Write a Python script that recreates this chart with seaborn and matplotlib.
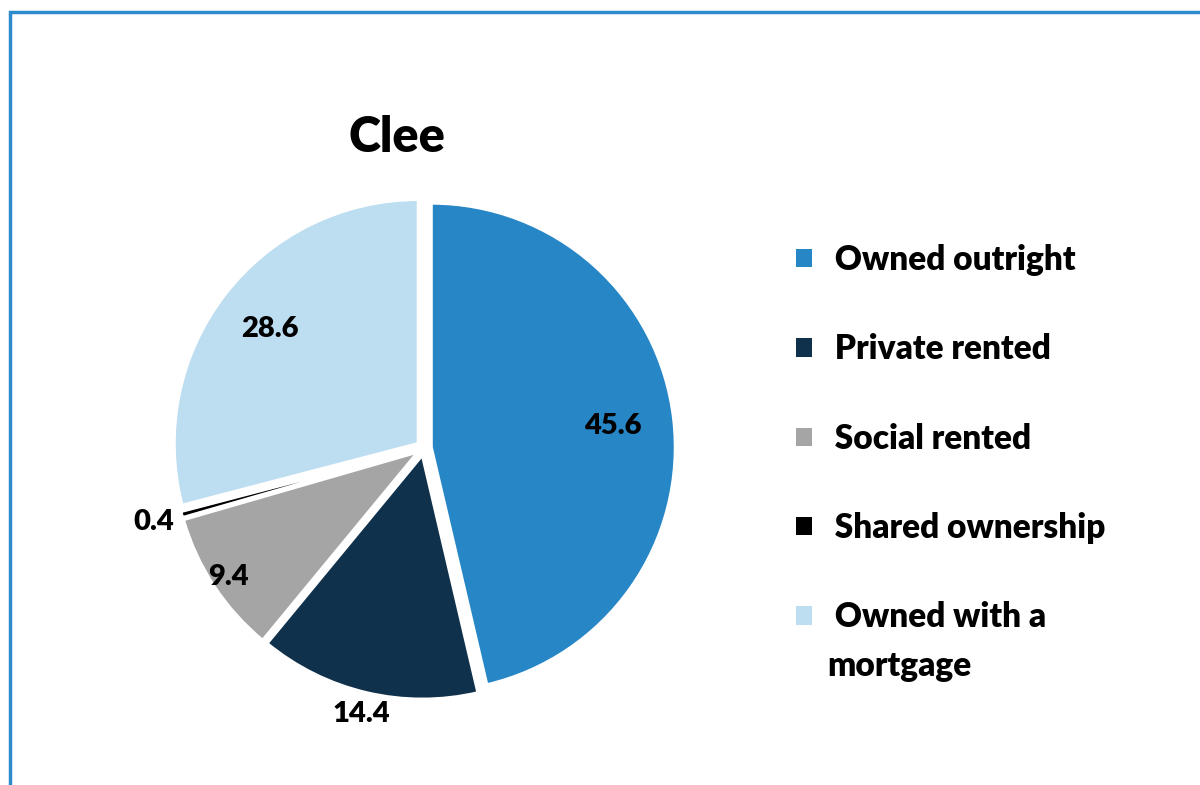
import numpy as np
import seaborn as sns
import matplotlib.pyplot as plt
from matplotlib.patches import Rectangle, Patch

sns.set_theme(style="white")
plt.rcParams['font.family'] = ['Lato', 'DejaVu Sans']
plt.rcParams['text.color'] = 'black'

# tenure shares for Clee (%)
categories = [" Owned outright", " Private rented", " Social rented",
              " Shared ownership", " Owned with a\nmortgage"]
values = [45.6, 14.4, 9.4, 0.4, 28.6]
value_labels = ["45.6", "14.4", "9.4", "0.4", "28.6"]
colors = ["#2686C6", "#10314B", "#A5A5A5", "#000000", "#BDDDF1"]
label_radius = [0.78, 1.12, 0.96, 1.15, 0.80]

fig = plt.figure(figsize=(12, 7.85), dpi=100)

# pie axes: centre at (424, 448) px, radius ~244 px
r_px = 244
half = 1.3 * r_px
ax = fig.add_axes([(424 - half) / 1200, (337 - half) / 785,
                   2 * half / 1200, 2 * half / 785])
wedges, _ = ax.pie(values, colors=colors, startangle=90, counterclock=False,
                   explode=[0.03] * len(values),
                   wedgeprops=dict(edgecolor="white", linewidth=2.2))
ax.set_xlim(-1.3, 1.3)
ax.set_ylim(-1.3, 1.3)
ax.set_aspect("equal")
ax.axis("off")

for w, lab, rr in zip(wedges, value_labels, label_radius):
    ang = np.deg2rad((w.theta1 + w.theta2) / 2)
    ax.text(rr * np.cos(ang), rr * np.sin(ang), lab, ha="center", va="center",
            fontsize=21, fontweight="heavy", color="black")

fig.text(397 / 1200, 1 - 137 / 785, "Clee", ha="center", va="center",
         fontsize=35, fontweight="heavy", color="black")

fs = 24
handles = [Patch(facecolor=c, edgecolor="none") for c in colors]
leg = fig.legend(handles, categories, loc="upper left",
                 bbox_to_anchor=(796 / 1200, 1 - 244 / 785),
                 frameon=False, prop=dict(size=fs, weight="heavy"),
                 handlelength=0.48, handleheight=0.48, handletextpad=0.45,
                 labelspacing=1.72, borderpad=0, borderaxespad=0)
for t in leg.get_texts():
    t.set_color("black")
    t.set_linespacing(1.65)
# keep the last square level with the first line of its two-line label
last = leg.legend_handles[-1]
last.set_y(last.get_y() + 0.82 * fs)

# blue frame, cut off at right and bottom like the source
fig.patches.append(Rectangle((9.5 / 1200, -0.1), 1.2, 1.1 - 11.5 / 785,
                             transform=fig.transFigure, fill=False,
                             edgecolor="#2E8BCC", linewidth=2.5))

fig.savefig("out.png", dpi=100)
